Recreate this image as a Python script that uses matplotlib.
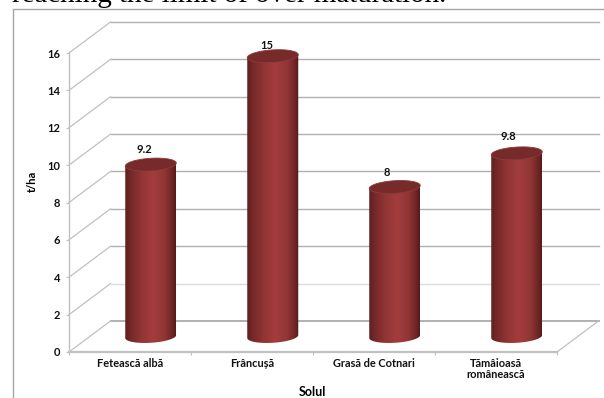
import numpy as np
import matplotlib
matplotlib.use("Agg")
import matplotlib.pyplot as plt
from matplotlib.colors import LinearSegmentedColormap
from matplotlib.patches import PathPatch
from matplotlib.path import Path

soiuri  = ["Fetească albă", "Frâncușă", "Grasă de Cotnari", "Tămâioasă\nromânească"]
recolta = [9.2, 15, 8, 9.8]
etichete = ["9.2", "15", "8", "9.8"]
yticks  = [0, 2, 4, 6, 8, 10, 12, 14, 16]

W, H = 604, 398
# front plane of the fake 3d box, in pixels
left, right, bottom, top = 69, 557, 352, 53
depth_x = 41.5/122      # in categories
depth_y = 31/18.68      # in t/ha
rad_x   = 25.5/122
rad_y   = 6.3/18.68
tilt    = 1.5/18.68

# value labels sit a little left of the cylinder axis (pixels)
label_dx = [-6, -6, -8, -8]
label_dy = [15, 11, 14, 17]

grid_col = "#b0b0b0"
axis_col = "#c0c0c0"
txt_col  = "#111111"

plt.rcParams['font.family'] = ['Lato', 'DejaVu Sans']

fig = plt.figure(figsize=(W/100, H/100), dpi=100)
ax  = fig.add_axes([left/W, 1-bottom/H, (right-left)/W, (bottom-top)/H])
ax.set_xlim(-0.5, 3.5)
ax.set_ylim(0, 16)
ax.patch.set_visible(False)
for s in ax.spines.values():
	s.set_visible(False)

# outer frame and the line of body text above it
fig.add_artist(plt.Line2D([12.5/W, 12.5/W, 1], [0, 1-9/H, 1-9/H], color="#a6a6a6", lw=1))
fig.text(12/W, 1-2.5/H, "reaching the limit of over maturation.", family="Liberation Serif",
	fontsize=20.9, color="black", va="baseline", ha="left")

# back wall grid, side wall diagonals
x0, x1 = -0.5, 3.5
for v in yticks:
	c  = "#dcdcdc" if v == 2 else grid_col
	lw = 1.4 if v == 0 else 1
	ax.plot([x0+depth_x, x1+depth_x], [v+depth_y, v+depth_y], color=c, lw=lw, clip_on=False, zorder=1)
	ax.plot([x0, x0+depth_x], [v, v+depth_y], color=axis_col, lw=0.9, clip_on=False, zorder=1)
ax.plot([x1, x1+depth_x], [0, depth_y], color=axis_col, lw=0.9, clip_on=False, zorder=1)
ax.plot([x0, x0], [0, 16], color=axis_col, lw=1, clip_on=False, zorder=1)
ax.plot([x0, x1], [0, 0], color=axis_col, lw=1.6, clip_on=False, zorder=1)

cyl = LinearSegmentedColormap.from_list("cyl", [(0, "#5e2020"), (0.12, "#772929"), (0.33, "#923535"),
	(0.55, "#a33d3d"), (0.78, "#923535"), (0.92, "#702626"), (1, "#541c1c")])
grad = np.linspace(0, 1, 128).reshape(1, -1)
t = np.linspace(0, 2*np.pi, 120)

# one cylinder per category, standing halfway into the box
for i, val in enumerate(recolta):
	cx  = i + depth_x/2
	y0  = depth_y/2
	y1  = val + depth_y/2
	ex  = cx + rad_x*np.cos(t)
	upp = y1 + rad_y*np.sin(t) + tilt*np.cos(t)

	# body outline: lower half of the base ellipse, then up the sides
	half = np.linspace(np.pi, 2*np.pi, 60)
	bx = cx + rad_x*np.cos(half)
	by = y0 + rad_y*np.sin(half) + tilt*np.cos(half)
	verts = list(zip(bx, by)) + [(cx+rad_x, y1+tilt), (cx-rad_x, y1-tilt), (bx[0], by[0])]
	im = ax.imshow(grad, extent=[cx-rad_x, cx+rad_x, y0-1, y1+1], aspect="auto", cmap=cyl,
		zorder=3, interpolation="bilinear")
	body = PathPatch(Path(verts), transform=ax.transData, fc="none", ec="none")
	ax.add_patch(body)
	im.set_clip_path(body)

	ax.fill(ex, upp, color="#772a2a", ec="#8e3a3a", lw=0.6, zorder=4, clip_on=False)
	ax.annotate(etichete[i], (cx, y1), xytext=(label_dx[i]*0.72, label_dy[i]*0.72), textcoords="offset points",
		ha="center", va="center", fontsize=8, fontweight="bold", color=txt_col, zorder=5)

ax.set_xlim(-0.5, 3.5)
ax.set_ylim(0, 16)

ax.set_yticks(yticks)
ax.set_xticks([-0.5, 0.5, 1.5, 2.5, 3.5])
ax.set_xticklabels([])
ax.tick_params(axis="both", color=axis_col, length=2.5, width=0.8, pad=4)
ax.set_yticklabels([str(v) for v in yticks], fontsize=8, fontweight="bold", color=txt_col)

for i, name in enumerate(soiuri):
	ax.text(i, -0.31, name, ha="center", va="top", fontsize=7.9, fontweight="bold",
		color=txt_col, linespacing=1.0)

fig.text(312/W, 1-392/H, "Solul", ha="center", va="center", fontsize=9, fontweight="bold", color="black")
fig.text(32/W, 1-181/H, "t/ha", ha="center", va="center", rotation=90, fontsize=8, fontweight="bold", color="black")

fig.savefig("out.png", dpi=100)
